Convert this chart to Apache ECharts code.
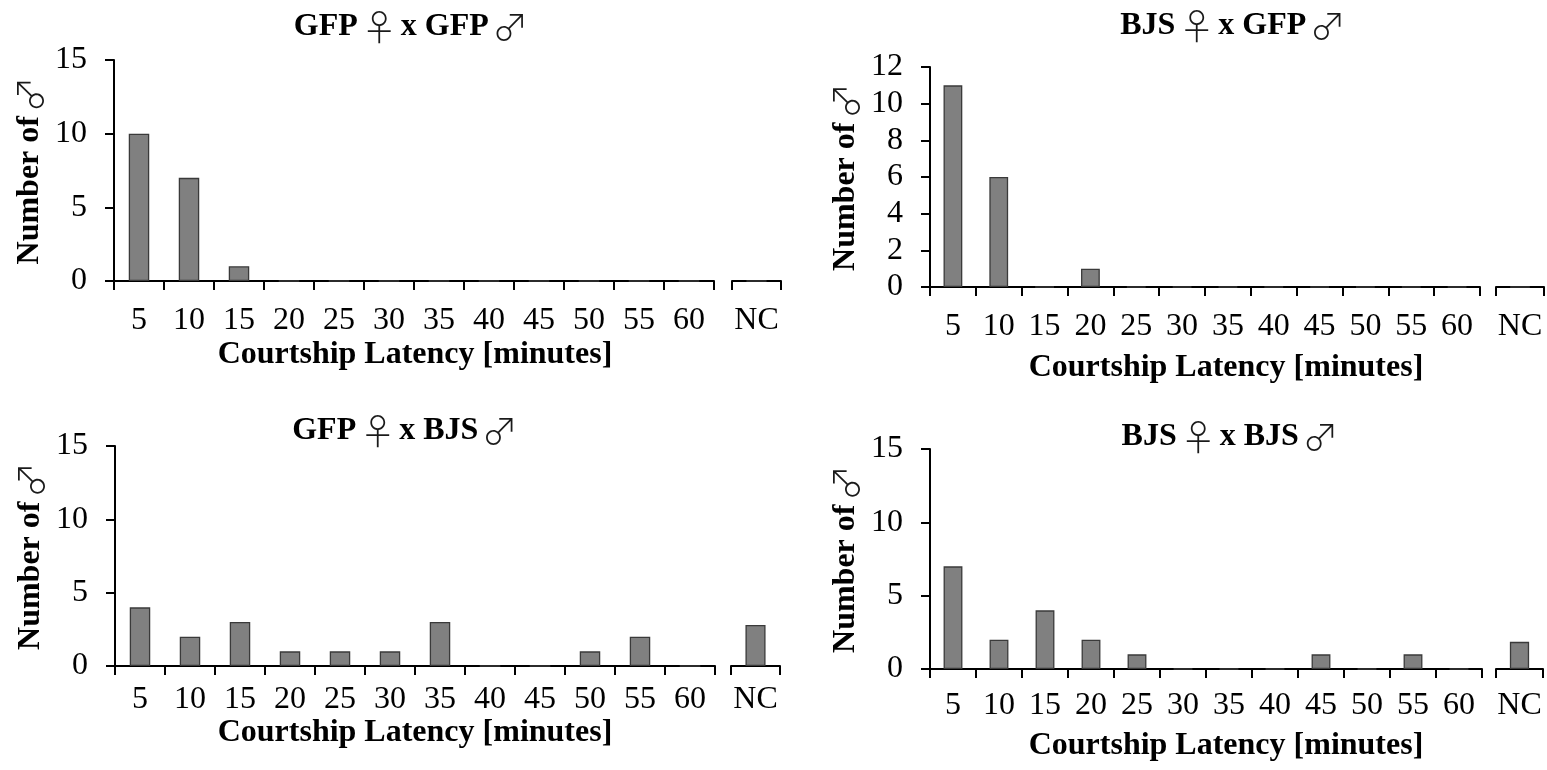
<!DOCTYPE html>
<html>
<head>
<meta charset="utf-8">
<title>Courtship Latency</title>
<script src="https://cdn.jsdelivr.net/npm/echarts@6/dist/echarts.min.js"></script>
<style>
  html, body { margin: 0; padding: 0; background: #fff; }
  #chart { width: 1547px; height: 770px; }
</style>
</head>
<body>
<div id="chart"></div>
<script>
// Latency bins (minutes) and the separate "no courtship" bin
const latencyBins = ['5', '10', '15', '20', '25', '30', '35', '40', '45', '50', '55', '60'];
const ncBin = ['NC'];

// Number of males per latency bin, one array per cross
const gfpFemaleGfpMale = [10, 7, 1, 0, 0, 0, 0, 0, 0, 0, 0, 0];
const gfpFemaleGfpMaleNC = [0];
const bjsFemaleGfpMale = [11, 6, 0, 1, 0, 0, 0, 0, 0, 0, 0, 0];
const bjsFemaleGfpMaleNC = [0];
const gfpFemaleBjsMale = [4, 2, 3, 1, 1, 1, 3, 0, 0, 1, 2, 0];
const gfpFemaleBjsMaleNC = [2.8];
const bjsFemaleBjsMale = [7, 2, 4, 2, 1, 0, 0, 0, 1, 0, 1, 0];
const bjsFemaleBjsMaleNC = [1.85];

// Panel titles (female strain first, male strain second)
const panelTitles = [
  ['GFP', 'GFP'],
  ['BJS', 'GFP'],
  ['GFP', 'BJS'],
  ['BJS', 'BJS']
];
const xAxisTitle = 'Courtship Latency [minutes]';
const yAxisTitleWord = 'Number of';

// y-axis ranges per panel
const yMax = [15, 12, 15, 15];
const yStep = [5, 2, 5, 5];

const seriesMain = [gfpFemaleGfpMale, bjsFemaleGfpMale, gfpFemaleBjsMale, bjsFemaleBjsMale];
const seriesNC = [gfpFemaleGfpMaleNC, bjsFemaleGfpMaleNC, gfpFemaleBjsMaleNC, bjsFemaleBjsMaleNC];

// Layout of each panel: main plot box, NC box, label margin, title and axis-title anchors
const layout = [
  { left: 114, width: 600, top: 60,  height: 221, ncLeft: 732,  ncWidth: 49, labelMargin: 24, titleX: 411,  titleY: 9,   axisTitleX: 415,  axisTitleY: 339 },
  { left: 930, width: 550, top: 67,  height: 220, ncLeft: 1496, ncWidth: 48, labelMargin: 24, titleX: 1233, titleY: 8,   axisTitleX: 1226, axisTitleY: 352 },
  { left: 115, width: 600, top: 446, height: 220, ncLeft: 731,  ncWidth: 49, labelMargin: 18, titleX: 405,  titleY: 413, axisTitleX: 415,  axisTitleY: 717 },
  { left: 930, width: 552, top: 449, height: 220, ncLeft: 1496, ncWidth: 47, labelMargin: 21, titleX: 1230, titleY: 419, axisTitleX: 1226, axisTitleY: 730 }
];

const SERIF = '"Liberation Serif", "Times New Roman", serif';
const SYMBOL = '"Noto Sans CJK JP", "DejaVu Sans", sans-serif';
const FS = 32;
const axisLineStyle = { color: '#000', width: 2 };
const richText = {
  b: { fontFamily: SERIF, fontSize: FS, fontWeight: 'bold', color: '#000' },
  g: { fontFamily: SERIF, fontSize: 14, color: '#000' },
  s: { fontFamily: SYMBOL, fontSize: 36, fontWeight: 200, color: '#1a1a1a' }
};

const grid = [], xAxis = [], yAxis = [], series = [], title = [];

layout.forEach((p, i) => {
  const gMain = i * 2, gNC = i * 2 + 1;
  grid.push({ left: p.left, top: p.top, width: p.width, height: p.height, containLabel: false });
  grid.push({ left: p.ncLeft, top: p.top, width: p.ncWidth, height: p.height, containLabel: false });

  [gMain, gNC].forEach((g, k) => {
    xAxis.push({
      type: 'category',
      gridIndex: g,
      data: k === 0 ? latencyBins : ncBin,
      boundaryGap: true,
      axisLine: { show: true, lineStyle: axisLineStyle },
      axisTick: { show: true, length: 9, inside: false, lineStyle: axisLineStyle },
      axisLabel: { interval: 0, margin: p.labelMargin, color: '#000', fontFamily: SERIF, fontSize: FS },
      splitLine: { show: false }
    });
    yAxis.push({
      type: 'value',
      gridIndex: g,
      show: k === 0,
      min: 0,
      max: yMax[i],
      interval: yStep[i],
      name: k === 0 ? '{b|' + yAxisTitleWord + '}{g| }{s|♂}' : '',
      nameLocation: 'middle',
      nameRotate: 90,
      nameGap: 66,
      nameTextStyle: { rich: richText },
      axisLine: { show: true, lineStyle: axisLineStyle },
      axisTick: { show: true, length: 9, inside: false, lineStyle: axisLineStyle },
      axisLabel: { margin: 27, color: '#000', fontFamily: SERIF, fontSize: FS },
      splitLine: { show: false }
    });
    series.push({
      type: 'bar',
      xAxisIndex: g,
      yAxisIndex: g,
      data: k === 0 ? seriesMain[i] : seriesNC[i],
      barWidth: '41%',
      itemStyle: { color: '#808080', borderColor: '#3a3a3a', borderWidth: 1.3 },
      silent: true,
      animation: false
    });
  });

  title.push({
    text: '{b|' + panelTitles[i][0] + '}{g| }{s|♀}{g| }{b|x ' + panelTitles[i][1] + '}{g| }{s|♂}',
    left: p.titleX,
    top: p.titleY,
    padding: 0,
    textAlign: 'center',
    textStyle: { rich: richText }
  });
  title.push({
    text: xAxisTitle,
    left: p.axisTitleX,
    top: p.axisTitleY,
    padding: 0,
    textAlign: 'center',
    textStyle: { fontFamily: SERIF, fontSize: FS, fontWeight: 'bold', color: '#000' }
  });
});

const chart = echarts.init(document.getElementById('chart'), null, { renderer: 'canvas' });
chart.setOption({
  animation: false,
  backgroundColor: '#fff',
  title: title,
  grid: grid,
  xAxis: xAxis,
  yAxis: yAxis,
  series: series
});
</script>
</body>
</html>
